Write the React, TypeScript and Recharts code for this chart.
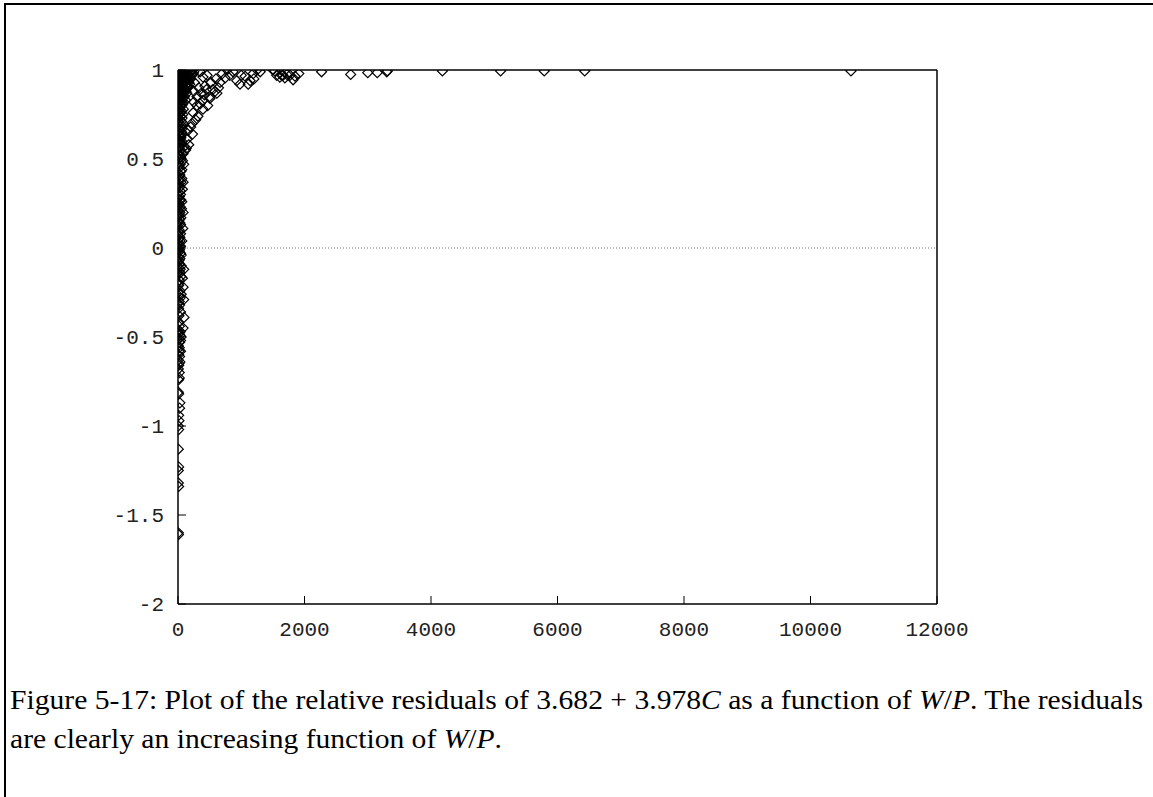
import React from 'react';
import { ScatterChart, Scatter, XAxis, YAxis, ReferenceLine } from 'recharts';

// W/P values and relative residuals in groups

// dense column next to W/P = 0
const columnW = [
  30, 60, 90, 120, 150, 180, 210, 240, 45, 75, 100, 130, 160, 200, 20, 50, 80, 110, 140, 170,
  15, 40, 65, 95, 125, 10, 35, 60, 85, 5, 25, 50, 75,
  8, 30, 55, 15, 40, 65, 5, 25, 50, 10, 35, 60, 20, 45, 5, 30, 55, 15, 40, 100, 120, 5, 25, 80,
  50, 10, 35, 90, 20, 60, 5, 30, 80, 15, 45, 5, 25, 70, 10, 40,
  5, 25, 60, 10, 35, 80, 5, 20, 45, 10, 30, 5, 75, 20, 40, 5, 15, 30, 5, 20, 60, 8,
  5, 20, 40, 10, 30, 5, 25, 50, 10, 90, 30, 5, 70, 20, 10, 80, 30, 5, 15, 90, 5, 25, 10, 40,
  95, 5, 20, 80, 5, 15, 30, 50, 10, 25, 5, 20, 40, 10, 25, 5, 15, 5, 20, 10, 5, 10, 30, 25,
  10, 15, 5, 10, 5, 10, 5, 5, 10, 5, 8,
];
const columnR = [
  0.99, 0.98, 0.99, 0.98, 0.99, 0.97, 0.99, 0.98, 0.96, 0.95, 0.97, 0.95, 0.96, 0.95, 0.93, 0.94, 0.92, 0.93, 0.91, 0.93,
  0.9, 0.91, 0.89, 0.9, 0.88, 0.87, 0.86, 0.85, 0.87, 0.84, 0.83, 0.82, 0.81,
  0.79, 0.78, 0.77, 0.75, 0.74, 0.73, 0.71, 0.7, 0.69, 0.67, 0.66, 0.65, 0.63, 0.62, 0.6, 0.59, 0.58, 0.56, 0.55, 0.57, 0.55, 0.53, 0.52, 0.53,
  0.5, 0.48, 0.47, 0.47, 0.45, 0.44, 0.42, 0.41, 0.37, 0.38, 0.37, 0.35, 0.34, 0.33, 0.31, 0.3,
  0.28, 0.27, 0.26, 0.24, 0.23, 0.2, 0.21, 0.19, 0.17, 0.15, 0.14, 0.12, 0.11, 0.1, 0.08, 0.07, 0.05, 0.04, 0.02, 0.01, 0.04, 0.0,
  -0.01, -0.02, -0.03, -0.05, -0.06, -0.08, -0.09, -0.1, -0.11, -0.12, -0.14, -0.15, -0.17, -0.18, -0.21, -0.22, -0.24, -0.25, -0.27, -0.29, -0.31, -0.32, -0.34, -0.36,
  -0.39, -0.42, -0.44, -0.45, -0.47, -0.48, -0.49, -0.5, -0.51, -0.53, -0.55, -0.56, -0.58, -0.6, -0.61, -0.63, -0.65, -0.68, -0.73, -0.74, -0.81, -0.82, -0.87, -0.9,
  -0.94, -0.97, -1.0, -1.02, -1.13, -1.23, -1.25, -1.32, -1.34, -1.6, -1.61,
];

// more points packed into the same column
const packW = [
  10, 70, 100, 130, 190, 220, 250, 35, 55, 85, 115, 145, 175, 25, 5, 65, 95, 125, 155, 185,
  30, 55, 80, 110, 140, 20, 45, 70, 100, 15, 40, 65, 90, 120, 10, 35, 60, 85, 5, 20,
  45, 75, 10, 30, 55, 80, 15, 40, 65, 5, 25, 50, 10, 35, 60, 20, 5, 40, 70, 15,
  45, 25, 60, 10, 35, 20, 45, 15, 30, 55, 10, 25, 40, 15, 30, 10, 40, 25, 50, 15,
  35, 20, 45, 15, 50, 20, 35, 15, 10, 35, 40, 15, 30, 10, 20,
];
const packR = [
  0.98, 0.99, 0.995, 0.99, 0.99, 0.97, 0.99, 0.97, 0.965, 0.975, 0.96, 0.97, 0.95, 0.95, 0.94, 0.93, 0.94, 0.92, 0.9, 0.92,
  0.9, 0.91, 0.88, 0.89, 0.87, 0.88, 0.87, 0.86, 0.85, 0.85, 0.84, 0.83, 0.82, 0.83, 0.81, 0.8, 0.8, 0.78, 0.77, 0.76,
  0.76, 0.75, 0.73, 0.72, 0.71, 0.7, 0.69, 0.68, 0.67, 0.65, 0.64, 0.63, 0.61, 0.6, 0.6, 0.57, 0.5, 0.51, 0.49, 0.46,
  0.43, 0.39, 0.39, 0.36, 0.32, 0.29, 0.27, 0.25, 0.2, 0.22, 0.18, 0.16, 0.13, 0.09, 0.06, 0.03, 0.01, -0.01, -0.04, -0.07,
  -0.12, -0.13, -0.16, -0.2, -0.26, -0.3, -0.28, -0.38, -0.46, -0.47, -0.52, -0.58, -0.64, -0.66, -0.7,
];

// the bend from W/P 150 to 2000
const bendW = [
  395, 425, 300, 395, 505, 585, 665, 745, 820, 870, 930, 980, 1060, 1140, 1110, 1190, 1250,
  300, 240, 315, 220, 160, 140, 395, 350, 450, 550, 615, 500, 775,
  180, 260, 330, 370, 420, 470, 250, 280, 200, 230, 170, 130, 250, 600, 700, 520, 460, 350, 1000, 1200, 1300, 640,
  1500, 1560, 1640, 1690, 1770, 1850, 1820, 1910, 1530, 1610, 1660, 1720,
];
const bendR = [
  0.96, 0.91, 0.85, 0.83, 0.84, 0.88, 0.93, 0.955, 0.97, 0.99, 0.94, 0.92, 0.965, 0.94, 0.92, 0.98, 1.0,
  0.8, 0.76, 0.74, 0.7, 0.66, 0.61, 0.78, 0.81, 0.89, 0.89, 0.87, 0.85, 1.0,
  0.95, 0.93, 0.9, 0.87, 0.86, 0.8, 0.82, 0.72, 0.68, 0.64, 0.58, 0.56, 0.88, 0.95, 0.98, 0.93, 0.97, 0.99, 0.97, 0.95, 0.99, 0.9,
  1.0, 0.97, 0.97, 0.955, 0.97, 0.965, 0.945, 0.98, 0.995, 0.96, 0.97, 0.975,
];

// sparse points out to the right
const tailW = [2270, 2730, 3000, 3150, 3300, 3310, 4180, 5100, 5790, 6430, 10640];
const tailR = [0.99, 0.975, 0.985, 0.985, 0.99, 0.995, 0.995, 0.995, 0.995, 0.995, 0.995];

const xTicks = [0, 2000, 4000, 6000, 8000, 10000, 12000];
const yTicks = [-2, -1.5, -1, -0.5, 0, 0.5, 1];

const toPoints = (w: number[], r: number[]) => w.map((x, i) => ({ x, y: r[i] }));
const points = [
  ...toPoints(columnW, columnR),
  ...toPoints(packW, packR),
  ...toPoints(bendW, bendR),
  ...toPoints(tailW, tailR),
];

const Diamond = (props: any) => {
  const { cx, cy } = props;
  const r = 5;
  return (
    <path
      d={`M${cx},${cy - r}L${cx + r},${cy}L${cx},${cy + r}L${cx - r},${cy}Z`}
      fill="none"
      stroke="#000"
      strokeWidth={1.2}
    />
  );
};

const tickFont = { fontFamily: '"Liberation Mono", monospace', fontSize: 21, fill: '#222' };
const axisStroke = { stroke: '#000', strokeWidth: 1.5 };

export default function App() {
  return (
    <div style={{ position: 'absolute', left: 0, top: 0, width: 1153, height: 797, background: '#fff' }}>
      <div
        style={{
          position: 'absolute', left: 4, top: 3, width: 1149, height: 794,
          borderTop: '2px solid #000', borderLeft: '2px solid #000', boxSizing: 'border-box',
        }}
      />
      <div style={{ position: 'absolute', left: 0, top: 0 }}>
        <ScatterChart width={1153} height={700} margin={{ top: 69, right: 215, bottom: 46, left: 118 }}>
          <XAxis
            type="number"
            dataKey="x"
            domain={[0, 12000]}
            ticks={xTicks}
            allowDataOverflow
            height={50}
            tickSize={-8}
            tickMargin={25}
            tick={tickFont}
            axisLine={axisStroke}
            tickLine={{ stroke: '#000' }}
          />
          <XAxis
            xAxisId="top"
            orientation="top"
            type="number"
            domain={[0, 12000]}
            ticks={xTicks}
            allowDataOverflow
            height={1}
            tickSize={-8}
            tick={false}
            axisLine={axisStroke}
            tickLine={{ stroke: '#000' }}
          />
          <YAxis
            type="number"
            dataKey="y"
            domain={[-2, 1]}
            ticks={yTicks}
            allowDataOverflow
            width={60}
            tickSize={-8}
            tickMargin={22}
            tick={tickFont}
            axisLine={axisStroke}
            tickLine={{ stroke: '#000' }}
          />
          <YAxis
            yAxisId="right"
            orientation="right"
            type="number"
            domain={[-2, 1]}
            ticks={yTicks}
            allowDataOverflow
            width={1}
            tickSize={-8}
            tick={false}
            axisLine={axisStroke}
            tickLine={{ stroke: '#000' }}
          />
          <ReferenceLine y={0} stroke="#777" strokeDasharray="1 2" />
          <Scatter data={points} shape={<Diamond />} isAnimationActive={false} />
        </ScatterChart>
      </div>
      <svg
        width={1153}
        height={120}
        style={{ position: 'absolute', left: 0, top: 670 }}
        fontFamily='"Liberation Serif", "Times New Roman", serif'
        fontSize={27}
        fill="#000"
      >
        <text x={10} y={39} textLength={1133} lengthAdjust="spacingAndGlyphs">
          Figure 5-17: Plot of the relative residuals of 3.682 + 3.978<tspan fontStyle="italic">C</tspan> as a function of{' '}
          <tspan fontStyle="italic">W</tspan>/<tspan fontStyle="italic">P</tspan>. The residuals
        </text>
        <text x={10} y={78} textLength={492} lengthAdjust="spacingAndGlyphs">
          are clearly an increasing function of <tspan fontStyle="italic">W</tspan>/<tspan fontStyle="italic">P</tspan>.
        </text>
      </svg>
    </div>
  );
}
